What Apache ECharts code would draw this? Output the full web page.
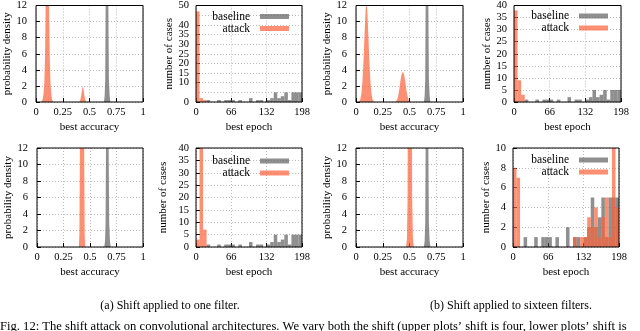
<!DOCTYPE html>
<html>
<head>
<meta charset="utf-8">
<title>shift attack</title>
<script src="https://cdn.jsdelivr.net/npm/echarts@6/dist/echarts.min.js"></script>
<style>
html, body { margin: 0; padding: 0; background: #fff; }
#chart { width: 640px; height: 331px; }
</style>
</head>
<body>
<div id="chart"></div>
<script>
var FONT = '"Liberation Serif", "Times New Roman", serif';
var GRAY = 'rgba(96,96,96,0.7)';
var SALMON = 'rgba(255,95,55,0.7)';

// tick labels
var accuracyTicks = [0, 0.25, 0.5, 0.75, 1];
var densityTicks = [0, 2, 4, 6, 8, 10, 12];
var epochTicks = [0, 66, 132, 198];
var casesTicks50 = [0, 5, 10, 15, 20, 25, 30, 35, 40, 45, 50];
var casesTicks40 = [0, 5, 10, 15, 20, 25, 30, 35, 40];
var casesTicks10 = [0, 2, 4, 6, 8, 10];

// kde of best accuracy, [accuracy, density]
var baselineDensity = [[0.635, 0], [0.642, 0.8], [0.647, 3], [0.651, 12], [0.655, 40], [0.672, 40], [0.676, 12], [0.681, 3], [0.688, 0.8], [0.695, 0]];
var attackDensityOneTop = [[0.05, 0], [0.062, 0.3], [0.07, 1], [0.078, 2.5], [0.085, 6], [0.09, 12], [0.095, 22], [0.105, 26], [0.115, 22], [0.122, 12], [0.128, 6], [0.135, 2.5], [0.143, 1], [0.15, 0.3], [0.16, 0],
	[0.405, 0], [0.415, 0.3], [0.423, 0.8], [0.43, 1.5], [0.437, 2], [0.444, 1.6], [0.452, 0.8], [0.46, 0.3], [0.47, 0]];
var attackDensitySixteenTop = [[0.025, 0], [0.04, 0.3], [0.05, 1], [0.06, 2.5], [0.07, 5], [0.08, 8.5], [0.09, 11.5], [0.097, 12.5], [0.105, 11.5], [0.115, 8.5], [0.125, 5], [0.135, 2.5], [0.145, 1], [0.155, 0.3], [0.17, 0],
	[0.37, 0], [0.385, 0.3], [0.395, 0.8], [0.405, 1.6], [0.415, 2.6], [0.425, 3.4], [0.438, 3.8], [0.45, 3.4], [0.46, 2.6], [0.47, 1.6], [0.48, 0.8], [0.49, 0.3], [0.5, 0]];
var attackDensityOneBottom = [[0.395, 0], [0.4, 1.5], [0.405, 12], [0.41, 40], [0.44, 40], [0.445, 12], [0.45, 1.5], [0.455, 0]];
var attackDensitySixteenBottom = [[0.468, 0], [0.476, 1], [0.482, 6], [0.487, 30], [0.52, 30], [0.525, 6], [0.532, 1], [0.54, 0]];

// histogram of best epoch
var binWidth = 6.6;
var binStart = [0, 6.6, 13.2, 19.8, 26.4, 33, 39.6, 46.2, 52.8, 59.4, 66, 72.6, 79.2, 85.8, 92.4,
	99, 105.6, 112.2, 118.8, 125.4, 132, 138.6, 145.2, 151.8, 158.4, 165, 171.6, 178.2, 184.8, 191.4];
var baselineCases = [0, 0, 0, 1, 0, 0, 1, 0, 1, 1, 1, 0, 1, 0, 0, 2, 0, 1, 1, 0, 1, 2, 5, 2, 3, 5, 1, 5, 5, 5];
var attackCasesOneTop = [47, 2, 1, 0, 0, 0, 0, 0, 0, 0, 0, 0, 0, 0, 0, 0, 0, 0, 0, 0, 0, 0, 0, 0, 0, 0, 0, 0, 0, 0];
var attackCasesSixteenTop = [38, 9, 3, 0, 0, 0, 0, 0, 0, 0, 0, 0, 0, 0, 0, 0, 0, 0, 0, 0, 0, 0, 0, 0, 0, 0, 0, 0, 0, 0];
var attackCasesOneBottom = [3, 40, 7, 0, 0, 0, 0, 0, 0, 0, 0, 0, 0, 0, 0, 0, 0, 0, 0, 0, 0, 0, 0, 0, 0, 0, 0, 0, 0, 0];
var attackCasesSixteenBottom = [8, 7, 0, 0, 0, 0, 0, 0, 0, 0, 0, 0, 0, 0, 0, 0, 0, 1, 0, 1, 1, 3, 2, 4, 1, 3, 5, 1, 10, 4];

var panels = [
	{kind: 'density', left: 36, top: 4, width: 107, height: 98, attack: attackDensityOneTop, nameGap: 17},
	{kind: 'hist', left: 196, top: 4, width: 106, height: 98, attack: attackCasesOneTop, yTicks: casesTicks50, nameGap: 19, legendRight: 351, legendTop: 10.5},
	{kind: 'density', left: 356, top: 4, width: 107, height: 98, attack: attackDensitySixteenTop, nameGap: 17},
	{kind: 'hist', left: 514, top: 4, width: 107, height: 98, attack: attackCasesSixteenTop, yTicks: casesTicks40, nameGap: 19, legendRight: 32, legendTop: 10},
	{kind: 'density', left: 37, top: 148, width: 106, height: 99, attack: attackDensityOneBottom, nameGap: 17},
	{kind: 'hist', left: 196, top: 148, width: 106, height: 99, attack: attackCasesOneBottom, yTicks: casesTicks40, nameGap: 27, legendRight: 351, legendTop: 155},
	{kind: 'density', left: 356, top: 148, width: 107, height: 99, attack: attackDensitySixteenBottom, nameGap: 17},
	{kind: 'hist', left: 513, top: 148, width: 106, height: 99, attack: attackCasesSixteenBottom, yTicks: casesTicks10, nameGap: 21, legendRight: 32, legendTop: 154}
];

function binData(counts) {
	var out = [];
	for (var i = 0; i < binStart.length; i++) {
		if (counts[i] > 0) out.push([binStart[i], counts[i]]);
	}
	return out;
}

function renderBin(params, api) {
	var lo = api.coord([api.value(0), 0]);
	var hi = api.coord([api.value(0) + binWidth, api.value(1)]);
	var cs = params.coordSys;
	var rect = echarts.graphic.clipRectByRect(
		{x: lo[0], y: hi[1], width: hi[0] - lo[0], height: lo[1] - hi[1]},
		{x: cs.x, y: cs.y, width: cs.width, height: cs.height}
	);
	if (!rect) return;
	return {type: 'rect', shape: rect, style: {fill: api.visual('color')}};
}

function axisBase(ticks, name, nameGap, margin) {
	return {
		type: 'value',
		min: ticks[0],
		max: ticks[ticks.length - 1],
		interval: ticks[1] - ticks[0],
		name: name,
		nameLocation: 'middle',
		nameGap: nameGap,
		nameTextStyle: {fontFamily: FONT, fontSize: 11, color: '#000'},
		axisLine: {show: false},
		axisTick: {inside: true, length: 4, lineStyle: {color: '#000'}},
		axisLabel: {margin: margin, fontFamily: FONT, fontSize: 10.5, color: '#000', showMinLabel: true, showMaxLabel: true},
		splitLine: {show: true, lineStyle: {type: [1, 2], color: '#bbb'}}
	};
}

var grid = [], xAxis = [], yAxis = [], series = [], legend = [];

panels.forEach(function (p, i) {
	grid.push({left: p.left, top: p.top, width: p.width, height: p.height, show: true,
		borderColor: '#000', borderWidth: 1, backgroundColor: 'transparent', z: 5});
	var xa, ya;
	if (p.kind == 'density') {
		xa = axisBase(accuracyTicks, 'best accuracy', 20, 5);
		ya = axisBase(densityTicks, 'probability density', p.nameGap, 9);
	} else {
		xa = axisBase(epochTicks, 'best epoch', 20, 5);
		ya = axisBase(p.yTicks, 'number of cases', p.nameGap, 7);
	}
	xa.gridIndex = i;
	ya.gridIndex = i;
	xAxis.push(xa);
	yAxis.push(ya);

	if (p.kind == 'density') {
		[[baselineDensity, GRAY, 'baseline density'], [p.attack, SALMON, 'attack density']].forEach(function (s) {
			series.push({
				type: 'line', name: s[2], xAxisIndex: i, yAxisIndex: i,
				data: s[0], showSymbol: false, clip: true, silent: true,
				lineStyle: {width: 0}, itemStyle: {color: s[1]},
				areaStyle: {color: s[1], opacity: 1}
			});
		});
	} else {
		[[baselineCases, GRAY, 'baseline'], [p.attack, SALMON, 'attack']].forEach(function (s) {
			series.push({
				type: 'custom', name: s[2], xAxisIndex: i, yAxisIndex: i,
				data: binData(s[0]), renderItem: renderBin, silent: true,
				encode: {x: 0, y: 1}, itemStyle: {color: s[1]}
			});
		});
		legend.push({
			data: ['baseline', 'attack'], orient: 'vertical', align: 'right',
			right: p.legendRight, top: p.legendTop, padding: 0,
			itemWidth: 29, itemHeight: 5, itemGap: 0, icon: 'rect', selectedMode: false,
			textStyle: {fontFamily: FONT, fontSize: 11.5, color: '#000', lineHeight: 9.5, padding: [0, 5, 0, 0]}
		});
	}
});

var chart = echarts.init(document.getElementById('chart'));
chart.setOption({
	animation: false,
	backgroundColor: '#fff',
	grid: grid,
	xAxis: xAxis,
	yAxis: yAxis,
	legend: legend,
	series: series,
	graphic: [
		{type: 'text', style: {text: '(a) Shift applied to one filter.', x: 170, y: 306, align: 'center', verticalAlign: 'middle', font: '12px ' + FONT, fill: '#000'}},
		{type: 'text', style: {text: '(b) Shift applied to sixteen filters.', x: 511, y: 306, align: 'center', verticalAlign: 'middle', font: '12px ' + FONT, fill: '#000'}},
		{type: 'text', style: {text: 'Fig. 12: The shift attack on convolutional architectures. We vary both the shift (upper plots\u2019 shift is four, lower plots\u2019 shift is', x: 0, y: 327, verticalAlign: 'middle', font: '12.6px ' + FONT, fill: '#000'}}
	]
});
</script>
</body>
</html>
